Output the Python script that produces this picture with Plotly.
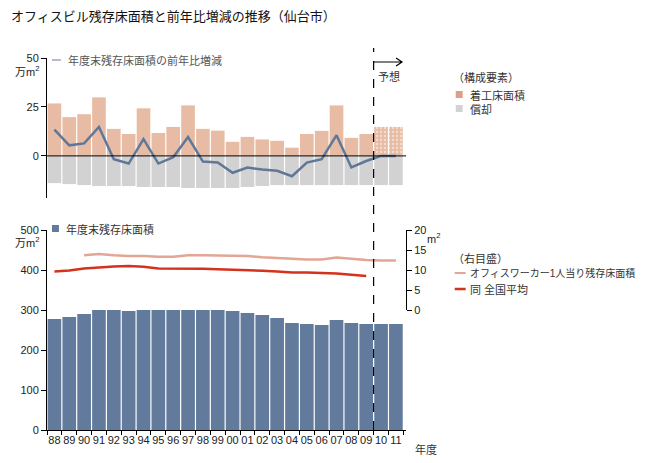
import plotly.graph_objects as go

# 年度 (fiscal years)
years = ["88", "89", "90", "91", "92", "93", "94", "95", "96", "97", "98", "99",
         "00", "01", "02", "03", "04", "05", "06", "07", "08", "09", "10", "11"]

# 上段: 万m2
construction = [26.8, 19.8, 21.3, 29.9, 13.8, 11.2, 24.3, 11.7, 14.8, 25.8, 13.8, 12.9,
                7.2, 9.7, 8.4, 7.7, 4.2, 11.2, 12.8, 25.8, 9.2, 11.2, 14.8, 14.8]
depreciation = [-13.9, -14.4, -14.9, -15.4, -15.4, -15.4, -15.9, -15.9, -15.9, -16.4, -16.4, -16.4,
                -16.4, -15.9, -15.4, -14.9, -14.9, -14.9, -14.9, -14.9, -14.9, -14.9, -14.9, -14.9]
net_change = [13.4, 5.4, 6.4, 14.8, -1.7, -3.9, 8.6, -3.9, -0.7, 9.6, -2.9, -3.4,
              -8.6, -5.9, -7.0, -7.6, -10.4, -3.4, -1.7, 10.6, -5.9, -2.6, 0.0, 0.0]
forecast = [False] * 22 + [True, True]

# 下段: 万m2
stock = [277.5, 282.5, 290, 302.5, 302.5, 297.5, 307.5, 302.5, 302.5, 312.5, 310, 307.5,
         297.5, 292.5, 287.5, 280, 267.5, 265, 262.5, 275, 267.5, 265, 265, 265]

# 右目盛: m2
per_worker_years = years[2:]
per_worker = [13.7, 14.0, 13.7, 13.5, 13.5, 13.3, 13.3, 13.7, 13.7, 13.6, 13.5, 13.5,
              13.2, 13.0, 12.8, 12.6, 12.6, 13.1, 12.8, 12.5, 12.4, 12.4]
national_years = years[:22]
national = [9.6, 9.9, 10.4, 10.7, 10.9, 11.0, 10.8, 10.4, 10.4, 10.4, 10.3, 10.2,
            10.1, 9.9, 9.8, 9.6, 9.4, 9.4, 9.3, 9.1, 8.8, 8.5]

C_CONS = "#e8bca4"
C_CONS_KEY = "#dc9f8c"
C_DEP = "#d2d2d2"
C_NET = "#5f7799"
C_NET_KEY = "#b4bccb"
C_STOCK = "#627a9b"
C_PINK = "#e3a594"
C_RED = "#d4321e"
FONT = "Liberation Sans, Noto Sans CJK JP, sans-serif"

# page body adds an 8px margin, so lay out in window pixels minus that
OFF = 8
W, H = 642, 455
L, T = 45 - OFF, 40 - OFF
R, B = W - (406 - OFF), H - (430 - OFF)


def px(x):
    return (x - OFF - L) / (W - L - R)


def py(y):
    return (H - B - (y - OFF)) / (H - T - B)


fig = go.Figure()

fig.add_trace(go.Bar(x=years, y=construction, xaxis="x", yaxis="y",
                     marker=dict(color=C_CONS, line_width=0,
                                 pattern=dict(shape=["." if f else "" for f in forecast],
                                              fgcolor="white", size=4, solidity=0.25)),
                     showlegend=False))
fig.add_trace(go.Bar(x=years, y=depreciation, xaxis="x", yaxis="y",
                     marker=dict(color=C_DEP, line_width=0), showlegend=False))
fig.add_trace(go.Scatter(x=years, y=net_change, xaxis="x", yaxis="y", mode="lines",
                         line=dict(color=C_NET, width=2.5), showlegend=False))

fig.add_trace(go.Bar(x=years, y=stock, xaxis="x2", yaxis="y2",
                     marker=dict(color=C_STOCK, line_width=0), showlegend=False))
fig.add_trace(go.Scatter(x=per_worker_years, y=per_worker, xaxis="x2", yaxis="y3", mode="lines",
                         line=dict(color=C_PINK, width=2.5), showlegend=False))
fig.add_trace(go.Scatter(x=national_years, y=national, xaxis="x2", yaxis="y3", mode="lines",
                         line=dict(color=C_RED, width=2.5), showlegend=False))

xrange = [-0.5, 23.68]
tickfont = dict(family=FONT, size=11, color="#222")

fig.update_layout(
    width=W, height=H,
    margin=dict(l=L, r=R, t=T, b=B),
    paper_bgcolor="white", plot_bgcolor="white",
    font=dict(family=FONT, size=11, color="#333"),
    barmode="relative", bargap=0.08,
    xaxis=dict(type="category", range=xrange, visible=False, anchor="y"),
    yaxis=dict(domain=[py(198), py(58)], range=[-21.5, 50], tickvals=[0, 25, 50],
               showline=True, linecolor="black", linewidth=1, ticks="outside", ticklen=5,
               tickcolor="black", showgrid=False, zeroline=False, tickfont=tickfont,
               anchor="x"),
    xaxis2=dict(type="category", range=xrange, anchor="y2", showline=True, linecolor="black",
                ticks="outside", tickson="boundaries", ticklen=4, tickcolor="black",
                showgrid=False, tickfont=tickfont, tickangle=0),
    yaxis2=dict(domain=[0, py(230)], range=[0, 500], tickvals=[0, 100, 200, 300, 400, 500],
                showline=True, linecolor="black", ticks="outside", ticklen=5, tickcolor="black",
                showgrid=False, zeroline=False, tickfont=tickfont, anchor="x2"),
    yaxis3=dict(domain=[py(310), py(230)], range=[0, 20], tickvals=[0, 5, 10, 15, 20],
                side="right", anchor="free", position=1.0, showline=True, linecolor="black",
                ticks="outside", ticklen=5, tickcolor="black", showgrid=False, zeroline=False,
                tickfont=tickfont),
)

shapes = [
    # zero line
    dict(type="line", xref="x", yref="y", x0=-0.5, x1=23.9, y0=0, y1=0,
         line=dict(color="black", width=1), layer="above"),
    # forecast divider
    dict(type="line", xref="x2", yref="paper", x0=21.5, x1=21.5, y0=0, y1=py(48),
         line=dict(color="black", width=1.2, dash="dash")),
    # forecast arrow
    dict(type="path", xref="paper", yref="paper",
         path=f"M {px(373)} {py(62)} L {px(402)} {py(62)} M {px(396)} {py(58)} "
              f"L {px(402)} {py(62)} L {px(396)} {py(66)}",
         line=dict(color="black", width=1.2)),
    # legend keys
    dict(type="line", xref="paper", yref="paper", x0=px(50), x1=px(59), y0=py(60), y1=py(60),
         line=dict(color=C_NET_KEY, width=2)),
    dict(type="rect", xref="paper", yref="paper", x0=px(50), x1=px(57), y0=py(232), y1=py(225),
         fillcolor=C_STOCK, line_width=0),
    dict(type="rect", xref="paper", yref="paper", x0=px(456), x1=px(463), y0=py(98), y1=py(91),
         fillcolor=C_CONS_KEY, line_width=0),
    dict(type="rect", xref="paper", yref="paper", x0=px(456), x1=px(463), y0=py(112), y1=py(105),
         fillcolor=C_DEP, line_width=0),
    dict(type="line", xref="paper", yref="paper", x0=px(455), x1=px(466), y0=py(273), y1=py(273),
         line=dict(color=C_PINK, width=2)),
    dict(type="line", xref="paper", yref="paper", x0=px(455), x1=px(466), y0=py(289), y1=py(289),
         line=dict(color=C_RED, width=2.5)),
]
fig.update_layout(shapes=shapes)


def label(x, y, text, size=11, color="#333", xanchor="left"):
    fig.add_annotation(x=px(x), y=py(y), xref="paper", yref="paper", text=text,
                       showarrow=False, xanchor=xanchor, yanchor="middle",
                       font=dict(family=FONT, size=size, color=color))


label(7, 17, "オフィスビル残存床面積と前年比増減の推移（仙台市）", size=13, color="#111")
label(39, 71, "万m<sup>2</sup>", color="#222", xanchor="right")
label(39, 242, "万m<sup>2</sup>", color="#222", xanchor="right")
label(425, 238, "m<sup>2</sup>", color="#222")
label(64, 60, "年度末残存床面積の前年比増減", color="#555")
label(62, 229, "年度末残存床面積", color="#333")
label(389, 76, "予想", color="#333", xanchor="center")
label(451, 78, "（構成要素）")
label(468, 95, "着工床面積")
label(468, 109, "償却")
label(451, 258, "（右目盛）")
label(468, 273, "オフィスワーカー1人当り残存床面積", size=10)
label(468, 289, "同 全国平均")
label(413, 449, "年度", color="#333")

fig.write_html("out.html")
